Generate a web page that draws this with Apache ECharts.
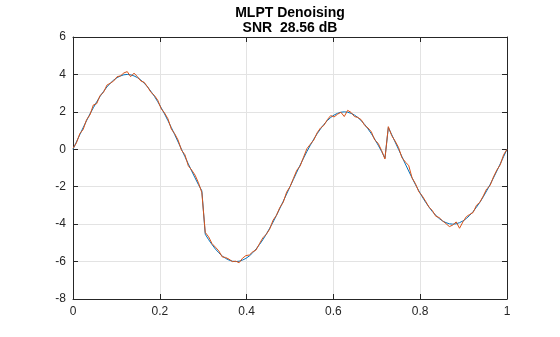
<!DOCTYPE html>
<html>
<head>
<meta charset="utf-8">
<script src="https://cdn.jsdelivr.net/npm/echarts@6/dist/echarts.min.js"></script>
<style>
  html, body { margin: 0; padding: 0; background: #fff; }
  #chart { width: 560px; height: 337px; }
</style>
</head>
<body>
<div id="chart"></div>
<script>
// Signal samples on a uniform grid over [0, 1] (129 samples)
const sampleCount = 129;

// Original (clean) signal
const originalValues = [
  0, 0.39, 0.78, 1.16, 1.53, 1.89, 2.22, 2.54, 2.83, 3.09, 3.33, 3.53, 3.70, 3.83, 3.92, 3.98,
  4.00, 3.98, 3.92, 3.83, 3.70, 3.53, 3.33, 3.09, 2.83, 2.54, 2.22, 1.89, 1.53, 1.16, 0.78, 0.39,
  0, -0.39, -0.78, -1.16, -1.53, -1.89, -2.22,
  -4.54, -4.83, -5.09, -5.33, -5.53, -5.70, -5.83, -5.92, -5.98, -6.00, -5.98, -5.92, -5.83,
  -5.70, -5.53, -5.33, -5.09, -4.83, -4.54, -4.22, -3.89, -3.53, -3.16, -2.78, -2.39, -2.00,
  -1.61, -1.22, -0.84, -0.47, -0.11, 0.22, 0.54, 0.83, 1.09, 1.33, 1.53, 1.70, 1.83, 1.92, 1.98,
  2.00, 1.98, 1.92, 1.83, 1.70, 1.53, 1.33, 1.09, 0.83, 0.54, 0.22, -0.11, -0.47,
  1.16, 0.78, 0.39, 0, -0.39, -0.78, -1.16, -1.53, -1.89, -2.22, -2.54, -2.83, -3.09, -3.33,
  -3.53, -3.70, -3.83, -3.92, -3.98, -4.00, -3.98, -3.92, -3.83, -3.70, -3.53, -3.33, -3.09,
  -2.83, -2.54, -2.22, -1.89, -1.53, -1.16, -0.78, -0.39, 0
];

// MLPT denoised estimate
const denoisedValues = [
  0.05, 0.34, 0.83, 1.06, 1.58, 1.84, 2.37, 2.44, 2.88, 3.04, 3.43, 3.53, 3.65, 3.88, 3.92, 4.08,
  4.15, 3.88, 4.07, 3.88, 3.65, 3.58, 3.33, 3.04, 2.88, 2.62, 2.17, 1.94, 1.63, 1.08, 0.83, 0.49,
  -0.05, -0.29, -0.88, -1.11, -1.38, -1.79, -2.32,
  -4.44, -4.68, -5.04, -5.23, -5.43, -5.75, -5.78, -5.87, -6.00, -5.98, -6.06, -5.82, -5.68,
  -5.65, -5.48, -5.38, -5.04, -4.73, -4.54, -4.27, -3.79, -3.53, -3.11, -2.83, -2.29, -2.00,
  -1.56, -1.12, -0.89, -0.42, 0.04, 0.27, 0.49, 0.88, 1.14, 1.28, 1.58, 1.80, 1.73, 1.87, 1.98,
  1.75, 2.08, 1.97, 1.75, 1.70, 1.58, 1.28, 1.14, 0.93, 0.49, 0.32, -0.06, -0.52,
  1.21, 0.73, 0.44, 0.10, -0.44, -0.68, -0.86, -1.53, -1.84, -2.27, -2.49, -2.78, -3.09, -3.28,
  -3.58, -3.65, -3.83, -3.97, -4.13, -4.05, -3.88, -4.22, -3.88, -3.60, -3.48, -3.38, -2.99,
  -2.83, -2.49, -2.12, -1.94, -1.48, -1.11, -0.83, -0.29, 0.00
];

const xTickLabels = ['0', '0.2', '0.4', '0.6', '0.8', '1'];
const yTickLabels = ['-8', '-6', '-4', '-2', '0', '2', '4', '6'];

const titleText = 'MLPT Denoising\nSNR  28.56 dB';

function toPairs(values) {
  return values.map((v, i) => [i / (sampleCount - 1), v]);
}

const textColor = '#262626';
const gridColor = '#e3e3e3';
const font = 'Liberation Sans, Arial, Helvetica, sans-serif';

const chart = echarts.init(document.getElementById('chart'), null, { renderer: 'canvas' });

const baseAxis = {
  axisLine: { show: true, onZero: false, lineStyle: { color: textColor, width: 1 } },
  axisTick: { show: true, inside: true, length: 5, lineStyle: { color: textColor, width: 1 } },
  splitLine: { show: false }
};

chart.setOption({
  animation: false,
  backgroundColor: '#ffffff',
  title: {
    text: titleText,
    left: 285,
    textAlign: 'center',
    top: 1,
    textStyle: { fontFamily: font, fontSize: 14, fontWeight: 'bold', color: '#000', lineHeight: 15 }
  },
  grid: { left: 73, right: 53, top: 37, bottom: 38, containLabel: false },
  xAxis: [
    Object.assign({}, baseAxis, {
      type: 'value', min: 0, max: 1, interval: 0.2, position: 'bottom',
      splitLine: { show: true, lineStyle: { color: gridColor, width: 1 } },
      axisLabel: {
        color: textColor, fontFamily: font, fontSize: 12, margin: 7,
        formatter: (v) => xTickLabels[Math.round(v / 0.2)]
      }
    }),
    Object.assign({}, baseAxis, {
      type: 'value', min: 0, max: 1, interval: 0.2, position: 'top',
      axisLabel: { show: false }
    })
  ],
  yAxis: [
    Object.assign({}, baseAxis, {
      type: 'value', min: -8, max: 6, interval: 2, position: 'left',
      splitLine: { show: true, lineStyle: { color: gridColor, width: 1 } },
      axisLabel: {
        color: textColor, fontFamily: font, fontSize: 12, margin: 7,
        formatter: (v) => yTickLabels[Math.round((v + 8) / 2)]
      }
    }),
    Object.assign({}, baseAxis, {
      type: 'value', min: -8, max: 6, interval: 2, position: 'right',
      axisLabel: { show: false }
    })
  ],
  series: [
    {
      name: 'Original',
      type: 'line',
      data: toPairs(originalValues),
      showSymbol: false,
      symbol: 'none',
      lineStyle: { color: '#0072BD', width: 1 },
      z: 2
    },
    {
      name: 'Denoised',
      type: 'line',
      data: toPairs(denoisedValues),
      showSymbol: false,
      symbol: 'none',
      lineStyle: { color: '#D95319', width: 1 },
      z: 3
    }
  ]
});
</script>
</body>
</html>
